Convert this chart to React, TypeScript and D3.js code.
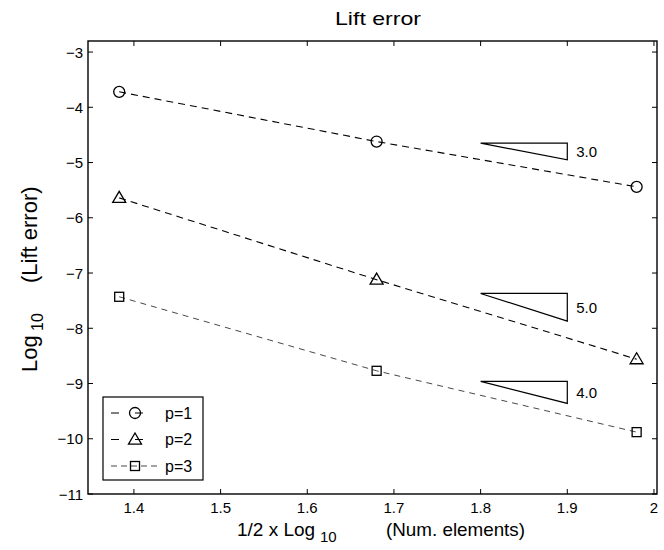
import React from "react";
import * as d3 from "d3";

const xValues = [1.383, 1.68, 1.98];
const p1Values = [-3.72, -4.62, -5.44];
const p2Values = [-5.64, -7.12, -8.56];
const p3Values = [-7.43, -8.77, -9.88];
const seriesLabels = ["p=1", "p=2", "p=3"];
const xTicks = [1.4, 1.5, 1.6, 1.7, 1.8, 1.9, 2.0];
const xTickLabels = ["1.4", "1.5", "1.6", "1.7", "1.8", "1.9", "2"];
const yTicks = [-3, -4, -5, -6, -7, -8, -9, -10, -11];
const slopeTops = [-4.65, -7.37, -8.96];
const slopeValues = [3.0, 5.0, 4.0];
const slopeLabels = ["3.0", "5.0", "4.0"];
const slopeX = [1.8, 1.9];

const W = 664, H = 550;
const L = 88, R = 657, T = 41, B = 494;
const FONT = "'Liberation Sans', Arial, Helvetica, sans-serif";

const x = d3.scaleLinear().domain([1.347, 2.0035]).range([L, R]);
const y = d3.scaleLinear().domain([-11, -2.8]).range([B, T]);

type Shape = "circle" | "triangle" | "square";
const shapes: Shape[] = ["circle", "triangle", "square"];
const series = [p1Values, p2Values, p3Values];
const strokes = ["#000", "#000", "#333"];
const widths = [1.1, 1.1, 0.9];
const dashes = ["7,5", "7,5", "6,5"];

function Marker({ shape, cx, cy, color }: { shape: Shape; cx: number; cy: number; color: string }) {
  if (shape === "circle") return <circle cx={cx} cy={cy} r={5.5} fill="none" stroke={color} strokeWidth={1.3} />;
  if (shape === "triangle") {
    const s = 6.5;
    return (
      <path
        d={`M${cx},${cy - s} L${cx + s},${cy + s * 0.7} L${cx - s},${cy + s * 0.7} Z`}
        fill="none"
        stroke={color}
        strokeWidth={1.3}
      />
    );
  }
  return <rect x={cx - 4.5} y={cy - 4.5} width={9} height={9} fill="none" stroke={color} strokeWidth={1.3} />;
}

export default function App() {
  const line = d3
    .line<[number, number]>()
    .x((d) => x(d[0]))
    .y((d) => y(d[1]));

  const tickLen = 5;

  return (
    <svg width={W} height={H} style={{ position: "absolute", left: 0, top: 0, background: "#fff" }} fontFamily={FONT}>
      <rect x={0} y={0} width={W} height={H} fill="#fff" />
      {/* title */}
      <text x={378} y={25} textAnchor="middle" fontSize={19} textLength={86} lengthAdjust="spacingAndGlyphs">
        Lift error
      </text>

      {/* series lines */}
      {series.map((vals, i) => (
        <path
          key={"l" + i}
          d={line(vals.map((v, j) => [xValues[j], v] as [number, number])) || ""}
          fill="none"
          stroke={strokes[i]}
          strokeWidth={widths[i]}
          strokeDasharray={dashes[i]}
        />
      ))}
      {series.map((vals, i) =>
        vals.map((v, j) => (
          <Marker key={`m${i}-${j}`} shape={shapes[i]} cx={x(xValues[j])} cy={y(v)} color="#000" />
        ))
      )}

      {/* slope triangles */}
      {slopeTops.map((top, i) => {
        const x0 = x(slopeX[0]);
        const x1 = x(slopeX[1]);
        const y0 = y(top);
        const y1 = y(top - slopeValues[i] * (slopeX[1] - slopeX[0]));
        return (
          <g key={"s" + i}>
            <path d={`M${x0},${y0} L${x1},${y0} L${x1},${y1} Z`} fill="none" stroke="#000" strokeWidth={1.2} />
            <text x={x1 + 9} y={(y0 + y1) / 2 + 5.5} fontSize={15}>
              {slopeLabels[i]}
            </text>
          </g>
        );
      })}

      {/* axes frame */}
      <rect x={L} y={T} width={R - L} height={B - T} fill="none" stroke="#000" strokeWidth={1.4} />
      {xTicks.map((t, i) => (
        <g key={"xt" + i}>
          <line x1={x(t)} x2={x(t)} y1={B} y2={B - tickLen} stroke="#000" strokeWidth={1} />
          <line x1={x(t)} x2={x(t)} y1={T} y2={T + tickLen} stroke="#000" strokeWidth={1} />
          <text x={x(t)} y={513} textAnchor="middle" fontSize={15}>
            {xTickLabels[i]}
          </text>
        </g>
      ))}
      {yTicks.map((t, i) => (
        <g key={"yt" + i}>
          <line x1={L} x2={L + tickLen} y1={y(t)} y2={y(t)} stroke="#000" strokeWidth={1} />
          <line x1={R} x2={R - tickLen} y1={y(t)} y2={y(t)} stroke="#000" strokeWidth={1} />
          <text x={83} y={y(t) + 5.5} textAnchor="end" fontSize={15}>
            {"\u2212" + Math.abs(t)}
          </text>
        </g>
      ))}

      {/* x label */}
      <text y={536} fontSize={19}>
        <tspan x={237}>1/2 x Log</tspan>
        <tspan x={320} dy={6} fontSize={15}>10</tspan>
        <tspan x={386} dy={-6} textLength={139} lengthAdjust="spacingAndGlyphs">(Num. elements)</tspan>
      </text>

      {/* y label */}
      <g transform="rotate(-90)">
        <text y={37} fontSize={22}>
          <tspan x={-372}>Log</tspan>
          <tspan x={-331} dy={6} fontSize={16}>10</tspan>
          <tspan x={-283} dy={-6}>(Lift error)</tspan>
        </text>
      </g>

      {/* legend */}
      <rect x={103} y={397} width={100} height={83} fill="#fff" stroke="#000" strokeWidth={1.2} />
      {seriesLabels.map((lab, i) => {
        const ly = 413 + i * 26.5;
        return (
          <g key={"lg" + i}>
            <line x1={111} x2={159} y1={ly} y2={ly} stroke={strokes[i]} strokeWidth={widths[i]} strokeDasharray={i === 2 ? "6,4" : "8,16"} />
            <Marker shape={shapes[i]} cx={135} cy={ly} color="#000" />
            <text x={165} y={ly + 5.5} fontSize={16}>
              {lab}
            </text>
          </g>
        );
      })}
    </svg>
  );
}
